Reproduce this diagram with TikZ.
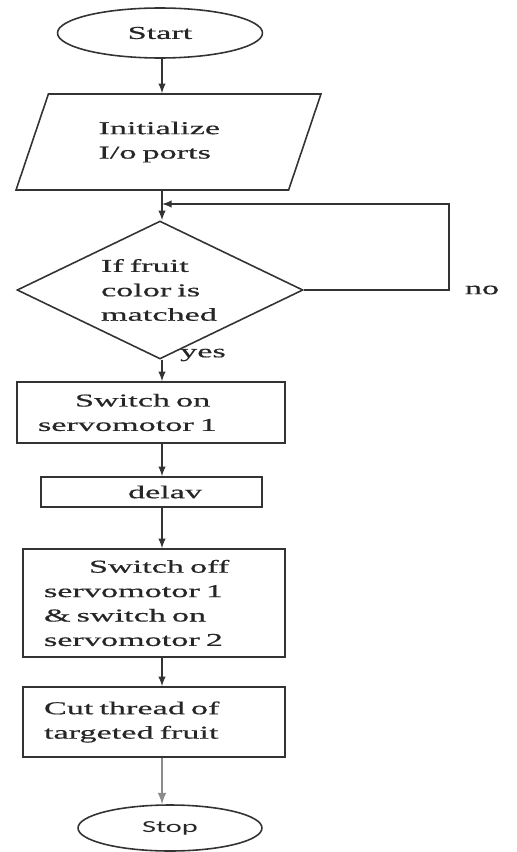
\documentclass[tikz,border=0pt]{standalone}
\usepackage{fontspec}
\setmainfont{Liberation Serif}[FakeStretch=1.89, FakeBold=0.6]
\newfontfamily\stopfont{Carlito}[FakeStretch=1.8]
\usetikzlibrary{shapes.geometric}

\tikzset{
  every node/.style={font=\fontsize{10.3}{13.9}\selectfont, text=black!85},
  term/.style={draw=black!80, ellipse, line width=0.9pt, inner sep=0pt},
  io/.style={draw=black!80, trapezium, trapezium left angle=51.6, trapezium right angle=128.4,
    trapezium stretches body, line width=0.9pt, align=left, inner sep=0pt},
  decision/.style={draw=black!80, diamond, aspect=2.07, line width=0.9pt, align=left, inner sep=0pt},
  proc/.style={draw=black!80, rectangle, line width=0.9pt, align=left, inner xsep=0.42cm, inner ysep=0pt},
  arrow/.style={-latex, draw=black!80, line width=0.9pt}
}

\begin{document}
\begin{tikzpicture}[x=0.02cm, y=-0.02cm]
    \useasboundingbox (0,0) rectangle (517,852);
    \coordinate (spine) at (162,0);
    % blocks
    \node[term, minimum width=4.1cm, minimum height=1cm] (start) at (160,33) {Start};
    \node[io, minimum width=6.1cm, minimum height=1.92cm, text width=2.8cm] (init) at (168.5,142) {Initialize\\I/o ports};
    \node[decision, minimum width=5.72cm, minimum height=2.76cm, text width=2.36cm] (match) at (160,290) {If fruit\\color is\\matched};
    \node[proc, text width=4.52cm, minimum height=1.22cm] (servo1) at (151,412.5) {\hspace*{0.74cm}Switch on\\servomotor 1};
    \node[proc, text width=3.58cm, minimum height=0.6cm] (delay) at (151.5,492) {\hspace*{1.32cm}delav};
    \node[proc, text width=4.4cm, minimum height=2.16cm] (servo2) at (154,603) {\hspace*{0.9cm}Switch off\\servomotor 1\\\& switch on\\servomotor 2};
    \node[proc, text width=4.4cm, minimum height=1.4cm] (cut) at (154,722) {Cut thread of\\targeted fruit};
    \node[term, minimum width=3.68cm, minimum height=0.92cm, font=\stopfont\fontsize{9.6}{12}\selectfont] (stop) at (170,828) {Stop};
    % labels
    \node (nolbl) at (482,290) {no};
    \node (yeslbl) at (203,355) {yes};
    \coordinate (merge) at (162,204);
    \coordinate (back) at (449,204);
    % flow
    \draw[arrow] (start.south -| spine) -- (init.north -| spine);
    \draw[arrow] (init.south -| spine) -- (match.north -| spine);
    \draw[arrow] (match.east) -| (back) -- (merge);
    \draw[arrow] (match.south -| spine) -- (servo1.north -| spine);
    \draw[arrow] (servo1.south -| spine) -- (delay.north -| spine);
    \draw[arrow] (delay.south -| spine) -- (servo2.north -| spine);
    \draw[arrow] (servo2.south -| spine) -- (cut.north -| spine);
    \draw[arrow, draw=black!45, line width=1.2pt] (cut.south -| spine) -- (stop.north -| spine);
\end{tikzpicture}
\end{document}
